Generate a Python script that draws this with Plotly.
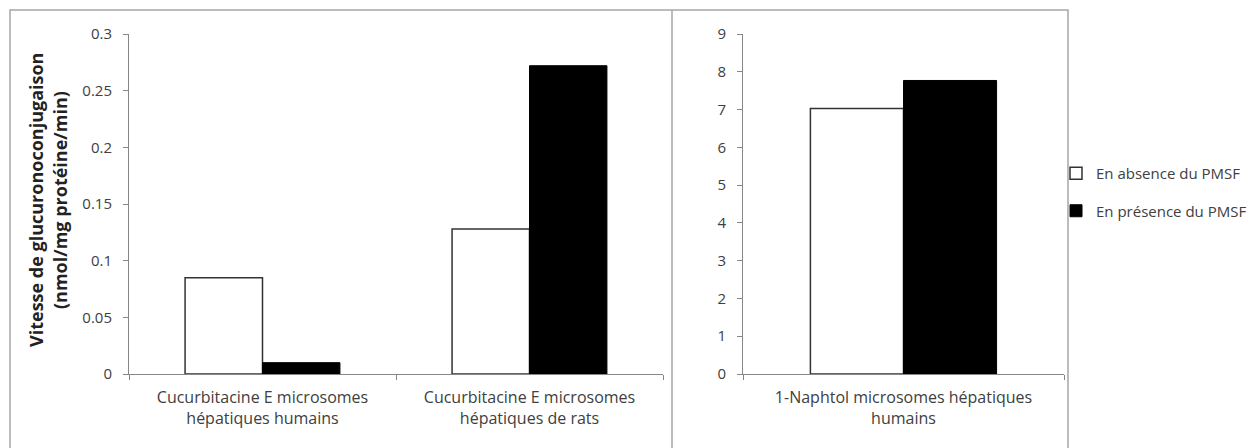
import plotly.graph_objects as go

# ---- data ----
categories_left = ["Cucurbitacine E microsomes<br>hépatiques humains",
                   "Cucurbitacine E microsomes<br>hépatiques de rats"]
absence_left = [0.085, 0.128]
presence_left = [0.010, 0.272]

categories_right = ["1-Naphtol microsomes hépatiques<br>humains"]
absence_right = [7.03]
presence_right = [7.77]

series_names = ["En absence du PMSF", "En présence du PMSF"]
y_title_lines = ["Vitesse de glucuronoconjugaison", "(nmol/mg protéine/min)"]

W, H = 1255, 448
OFF = 8  # page body margin
FONT = "Open Sans"
TXT = "#404040"
AX = "#868686"

def px(x):
    return (x - OFF) / W

def py(y):
    return 1 - (y - OFF) / H

fig = go.Figure()

fig.add_trace(go.Bar(x=categories_left, y=absence_left, name=series_names[0],
                     marker=dict(color="white", line=dict(color="#333333", width=1.5)),
                     xaxis="x", yaxis="y", legendgroup="a"))
fig.add_trace(go.Bar(x=categories_left, y=presence_left, name=series_names[1],
                     marker=dict(color="black", line=dict(color="black", width=1)),
                     xaxis="x", yaxis="y", legendgroup="b"))
fig.add_trace(go.Bar(x=categories_right, y=absence_right, name=series_names[0],
                     marker=dict(color="white", line=dict(color="#333333", width=1.5)),
                     xaxis="x2", yaxis="y2", legendgroup="a", showlegend=False))
fig.add_trace(go.Bar(x=categories_right, y=presence_right, name=series_names[1],
                     marker=dict(color="black", line=dict(color="black", width=1)),
                     xaxis="x2", yaxis="y2", legendgroup="b", showlegend=False))

ydom = [py(374), py(34)]
common_x = dict(showline=True, linecolor=AX, linewidth=1, ticks="outside",
                tickson="boundaries", ticklen=5, tickcolor=AX, showgrid=False,
                ticklabelstandoff=9,
                tickfont=dict(family=FONT, size=16, color=TXT), zeroline=False)
common_y = dict(showline=True, linecolor=AX, linewidth=1, ticks="outside",
                ticklen=5, tickcolor=AX, showgrid=False, zeroline=False,
                ticklabelstandoff=8,
                tickfont=dict(family=FONT, size=15, color=TXT))

fig.update_layout(
    width=W, height=H,
    margin=dict(l=0, r=0, t=0, b=0, autoexpand=False),
    paper_bgcolor="white", plot_bgcolor="white",
    barmode="group", bargap=0.42, bargroupgap=0,
    xaxis=dict(domain=[px(129), px(663)], anchor="y", **common_x),
    yaxis=dict(domain=ydom, anchor="x", range=[0, 0.3], dtick=0.05, **common_y),
    xaxis2=dict(domain=[px(743), px(1064)], anchor="y2", **common_x),
    yaxis2=dict(domain=ydom, anchor="x2", range=[0, 9], dtick=1, **common_y),
    legend=dict(x=px(1056), y=py(157), xanchor="left", yanchor="top",
                traceorder="grouped", tracegroupgap=15,
                font=dict(family=FONT, size=15, color=TXT),
                bgcolor="rgba(0,0,0,0)"),
    showlegend=True,
)

# frame around the chart area and divider between panels
fig.add_shape(type="rect", xref="paper", yref="paper",
              x0=px(10), x1=px(1068), y0=py(470), y1=py(10),
              line=dict(color="#a6a6a6", width=1.5), layer="below")
fig.add_shape(type="line", xref="paper", yref="paper",
              x0=px(672), x1=px(672), y0=py(470), y1=py(10),
              line=dict(color="#a6a6a6", width=1.5), layer="below")

# y-axis title (two bold lines)
fig.add_annotation(xref="paper", yref="paper", x=px(36), y=py(200),
                   xanchor="center", yanchor="middle",
                   text="<b>" + y_title_lines[0] + "</b>", textangle=-90,
                   showarrow=False, font=dict(family=FONT, size=18, color="#222222"))
fig.add_annotation(xref="paper", yref="paper", x=px(60), y=py(200),
                   xanchor="center", yanchor="middle",
                   text="<b>" + y_title_lines[1] + "</b>", textangle=-90,
                   showarrow=False, font=dict(family=FONT, size=18, color="#222222"))

fig.write_html("out.html")
